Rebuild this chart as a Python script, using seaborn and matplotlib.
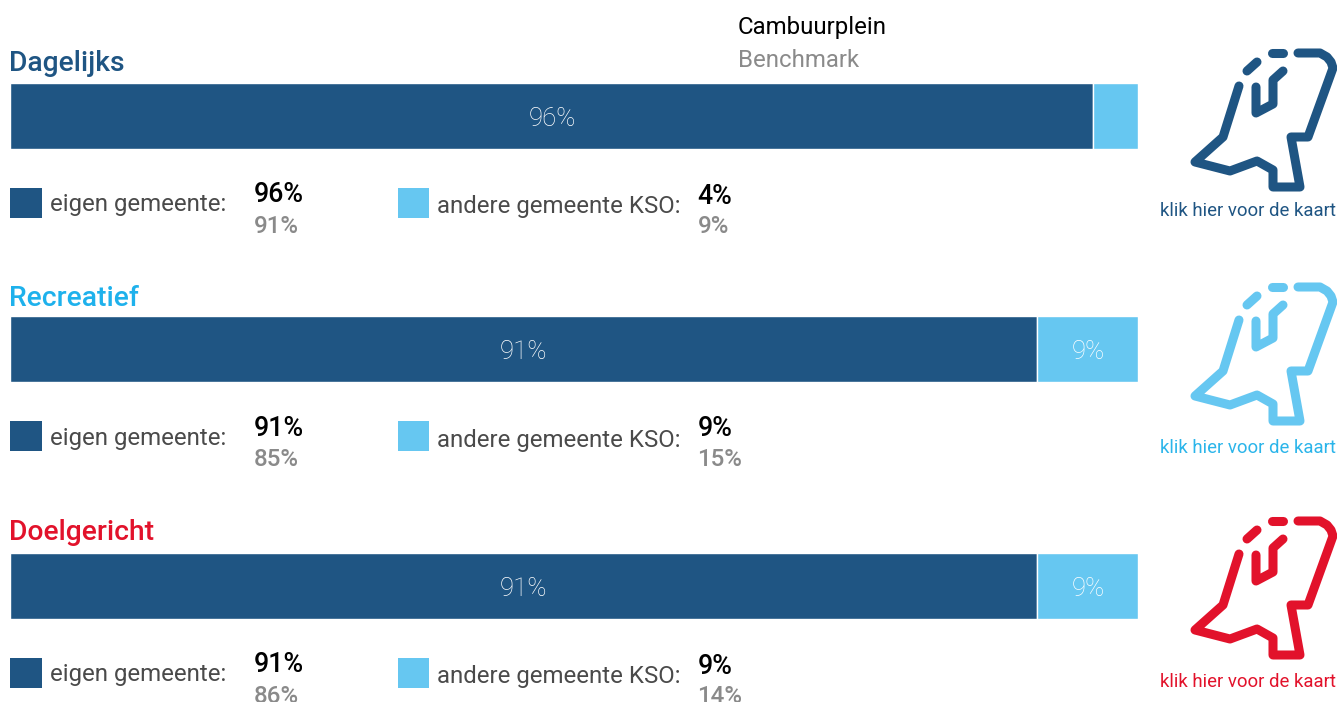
import matplotlib
matplotlib.use("Agg")
import matplotlib.pyplot as plt
from matplotlib.patches import Rectangle
import seaborn as sns

sns.set_theme(style="white")
plt.rcParams["font.family"] = ["Roboto", "DejaVu Sans"]

# Values
groups = ["Dagelijks", "Recreatief", "Doelgericht"]
eigen = [96, 91, 91]
andere = [4, 9, 9]
eigen_bench = [91, 85, 86]
andere_bench = [9, 15, 14]

DARK = "#1f5583"
LIGHT = "#66c7f1"
title_colors = ["#1f5583", "#1eb1ec", "#e2122b"]
icon_colors = ["#1f5583", "#66c7f1", "#e2122b"]
link_colors = ["#1f5583", "#2bb5ea", "#e2122b"]

W, H = 1337, 702
fig = plt.figure(figsize=(W / 100, H / 100), dpi=100)

# overlay in pixel coordinates for the text around the bars
bg = fig.add_axes([0, 0, 1, 1])
bg.set_xlim(0, W)
bg.set_ylim(H, 0)
bg.axis("off")

# pixel layout per group
bar_top = [82.5, 315.5, 552.5]
bar_h = 66
title_y = [63.6, 298, 533]
swatch_y = [188, 421, 658]
label1_y = [205, 438, 675]
label2_y = [207, 440, 676]
val_y = [195, 428, 665]
bench_y = [226.6, 459.6, 696.6]
icon_dy = [0, 234, 468]
link_y = [211, 448, 682]

# outline of the map icon, pixels
icon_main = [(1239, 86), (1223, 137), (1195, 162), (1230, 171), (1257, 161), (1273, 170),
             (1273, 187), (1300, 187), (1291, 137), (1308, 137), (1333, 68), (1331, 62),
             (1327, 57), (1320, 53), (1298, 53)]
icon_dash1 = [(1272, 53), (1283, 53)]
icon_dash2 = [(1257, 62), (1247, 71)]
icon_inner = [(1256, 87), (1256, 113), (1273, 104), (1273, 80), (1283, 71)]


def draw_icon(dy, color):
    for part in [icon_main, icon_dash1, icon_dash2, icon_inner]:
        xs = [p[0] for p in part]
        ys = [p[1] + dy for p in part]
        bg.plot(xs, ys, color=color, lw=6.5, solid_capstyle="round", solid_joinstyle="round")


for i, name in enumerate(groups):
    ax = fig.add_axes([10.1 / W, 1 - (bar_top[i] + bar_h) / H, 1128 / W, bar_h / H])
    sns.barplot(x=[eigen[i]], y=[name], color=DARK, saturation=1, width=1, orient="h",
                edgecolor="white", linewidth=1, ax=ax)
    sns.barplot(x=[andere[i]], y=[name], left=[eigen[i]], color=LIGHT, saturation=1, width=1,
                orient="h", edgecolor="white", linewidth=1, ax=ax)
    ax.set_xlim(0, 100)
    ax.axis("off")

    ax.text(eigen[i] / 2 + 0.05, 0.06, f"{eigen[i]}%", color="white", fontsize=18.5, fontweight="light",
            ha="center", va="center")
    if andere[i] >= 5:
        ax.text(eigen[i] + andere[i] / 2 + 0.05, 0.06, f"{andere[i]}%", color="white", fontsize=18.5,
                fontweight="light", ha="center", va="center")

    bg.text(9, title_y[i], name, color=title_colors[i], fontsize=20.3, fontweight="medium",
            ha="left", va="center")

    bg.add_patch(Rectangle((10, swatch_y[i]), 32, 30, color=DARK, lw=0))
    bg.add_patch(Rectangle((398, swatch_y[i]), 31, 30, color=LIGHT, lw=0))
    bg.text(50, label1_y[i], "eigen gemeente:", color="#4a4a4a", fontsize=17.3, ha="left", va="center")
    bg.text(437, label2_y[i], "andere gemeente KSO:", color="#4a4a4a", fontsize=17.3, ha="left", va="center")

    bg.text(253.5, val_y[i], f"{eigen[i]}%", color="black", fontsize=19.3, fontweight="medium", ha="left", va="center")
    bg.text(253.5, bench_y[i], f"{eigen_bench[i]}%", color="#8a8a8a", fontsize=17.4, fontweight="medium", ha="left", va="center")
    bg.text(697.5, val_y[i] + 1, f"{andere[i]}%", color="black", fontsize=19.3, fontweight="medium", ha="left", va="center")
    bg.text(697.5, bench_y[i], f"{andere_bench[i]}%", color="#8a8a8a", fontsize=17.4, fontweight="medium", ha="left", va="center")

    draw_icon(icon_dy[i], icon_colors[i])
    bg.text(1160, link_y[i], "klik hier voor de kaart", color=link_colors[i], fontsize=13.4, ha="left", va="center")

# bottom of an icon cut off at the top edge
bg.plot([1250, 1256], [-2, -2], color=LIGHT, lw=6, solid_capstyle="round")

bg.text(738, 27.6, "Cambuurplein", color="black", fontsize=17.3, ha="left", va="center")
bg.text(738, 60.6, "Benchmark", color="#8a8a8a", fontsize=17.3, ha="left", va="center")

fig.savefig("out.png", dpi=100)
